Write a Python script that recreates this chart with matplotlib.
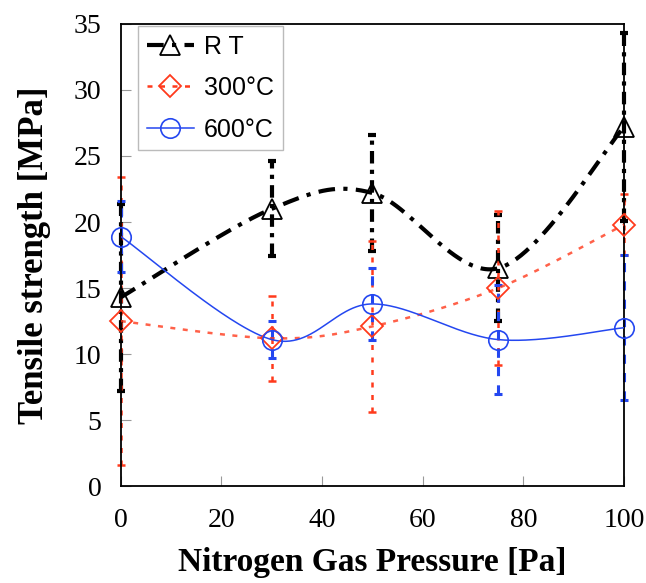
import numpy as np
import matplotlib
matplotlib.use('Agg')
import matplotlib.pyplot as plt

# data
pressure = [0, 30, 50, 75, 100]
rt = [14.3, 21.0, 22.2, 16.5, 27.2]
rt_err = [7.1, 3.6, 4.4, 4.0, 7.1]
t300 = [12.5, 11.2, 12.1, 15.0, 19.8]
t300_err = [10.9, 3.2, 6.5, 5.8, 2.3]
t600 = [18.9, 11.1, 13.8, 11.1, 12.0]
t600_err = [2.7, 1.4, 2.7, 4.1, 5.5]
labels = ['R T', '300°C', '600°C']


def smooth(x, y, n=60):
    # Excel-like smoothed line (Catmull-Rom as cubic Bezier)
    p = np.column_stack([x, y]).astype(float)
    p = np.vstack([p[0], p, p[-1]])
    xs, ys = [], []
    t = np.linspace(0, 1, n)[:, None]
    for i in range(1, len(p) - 2):
        b0 = p[i]
        b1 = p[i] + (p[i + 1] - p[i - 1]) / 6
        b2 = p[i + 1] - (p[i + 2] - p[i]) / 6
        b3 = p[i + 1]
        c = ((1 - t)**3) * b0 + 3 * ((1 - t)**2) * t * b1 + 3 * (1 - t) * t**2 * b2 + t**3 * b3
        xs.extend(c[:, 0]); ys.extend(c[:, 1])
    return np.array(xs), np.array(ys)


plt.rcParams['font.family'] = 'Liberation Serif'

fig = plt.figure(figsize=(6.46, 5.83), dpi=100)
ax = fig.add_axes([0.187, 0.166, 0.779, 0.793])

red = '#ff3a1c'
blue = '#2447f0'

# error bars
for y, e, col, lw, ds in [(rt, rt_err, 'black', 3.0, (3, 1.5, 1, 1.5)),
                          (t300, t300_err, red, 1.8, (2, 3)),
                          (t600, t600_err, blue, 2.2, (3, 3))]:
    eb = ax.errorbar(pressure, y, yerr=e, fmt='none', ecolor=col, elinewidth=lw,
                     capsize=3, capthick=lw, clip_on=False, zorder=2)
    eb[2][0].set_linestyle((0, ds))

sx, sy = smooth(pressure, rt)
ax.plot(sx, sy, color='black', lw=3.0, dashes=(4, 2, 1, 2), zorder=3, clip_on=False)
sx, sy = smooth(pressure, t300)
ax.plot(sx, sy, color=red, lw=1.8, dashes=(2, 3), alpha=0.8, zorder=3)
sx, sy = smooth(pressure, t600)
ax.plot(sx, sy, color=blue, lw=1.1, zorder=3)

ax.plot(pressure, rt, ls='none', marker='^', ms=14, mfc='none', mec='black', mew=1.3, zorder=5, clip_on=False)
ax.plot(pressure, t300, ls='none', marker='D', ms=11, mfc='none', mec=red, mew=1.3, zorder=5, clip_on=False)
ax.plot(pressure, t600, ls='none', marker='o', ms=14, mfc='none', mec=blue, mew=1.2, zorder=5, clip_on=False)

# legend proxies
h1, = ax.plot([], [], color='black', lw=3.0, dashes=(4, 2, 1, 2), marker='^', ms=14, mfc='none', mec='black', mew=1.3)
h2, = ax.plot([], [], color=red, lw=1.8, dashes=(2, 3), marker='D', ms=11, mfc='none', mec=red, mew=1.3)
h3, = ax.plot([], [], color=blue, lw=1.1, marker='o', ms=14, mfc='none', mec=blue, mew=1.2)
leg = ax.legend([h1, h2, h3], labels, loc='upper left', bbox_to_anchor=(0.034, 0.996),
                prop={'family': 'Liberation Sans', 'size': 18}, frameon=True, fancybox=False,
                edgecolor='#aaaaaa', handlelength=1.9, handletextpad=0.4, labelspacing=0.7,
                borderpad=0.35, borderaxespad=0)
leg.get_frame().set_linewidth(1.0)

ax.set_xlim(0, 100)
ax.set_ylim(0, 35)
ax.set_xticks([0, 20, 40, 60, 80, 100])
ax.set_yticks(range(0, 36, 5))
ax.tick_params(axis='x', direction='in', length=7, color='#999999', pad=16, labelsize=20)
ax.tick_params(axis='y', direction='in', length=7, color='#999999', pad=14, labelsize=20)
for s in ax.spines.values():
    s.set_linewidth(1.3)

ax.set_xlabel('Nitrogen Gas Pressure [Pa]', fontsize=24, fontweight='bold', labelpad=10)
ax.set_ylabel('Tensile strength [MPa]', fontsize=25, fontweight='bold', labelpad=16)

fig.savefig('out.png', dpi=100)
